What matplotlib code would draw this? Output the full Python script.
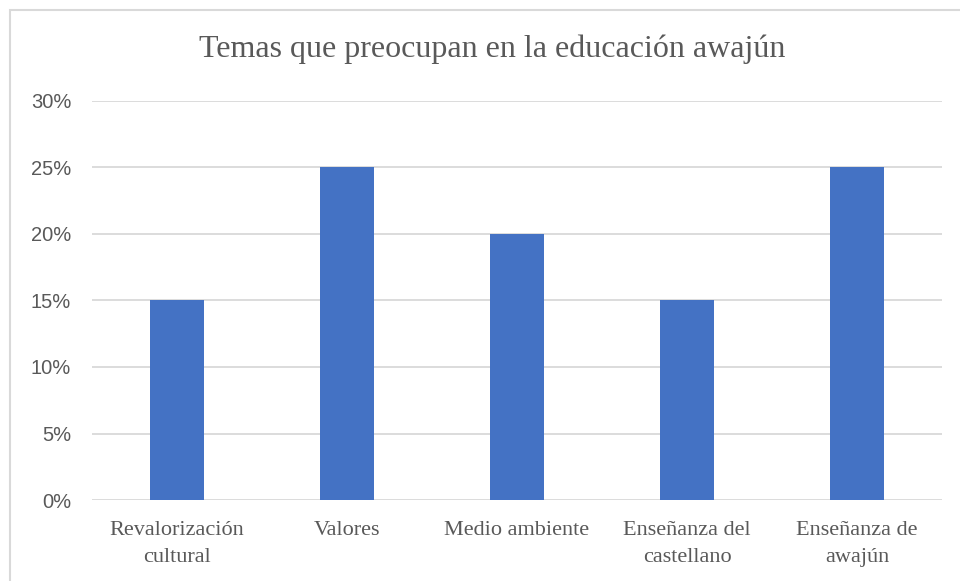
import matplotlib
matplotlib.use("Agg")
import matplotlib.pyplot as plt
from matplotlib.patches import Rectangle
from matplotlib.ticker import PercentFormatter

categories = ["Revalorización\ncultural", "Valores", "Medio ambiente",
              "Enseñanza del\ncastellano", "Enseñanza de\nawajún"]
values = [0.15, 0.25, 0.20, 0.15, 0.25]
yticks = [0, 0.05, 0.10, 0.15, 0.20, 0.25, 0.30]

BLUE = "#4472C4"; GRID = "#D9D9D9"; TXT = "#595959"

fig = plt.figure(figsize=(9.6, 5.81), dpi=100)
ax = fig.add_axes([0.0958, 0.1394, 0.8854, 0.6868])

x = range(len(categories))
ax.bar(x, values, width=0.32, color=BLUE, zorder=3)
ax.set_xlim(-0.5, len(categories) - 0.5)
ax.set_ylim(0, 0.30)
ax.set_yticks(yticks)
ax.yaxis.set_major_formatter(PercentFormatter(1.0, decimals=0))
ax.set_xticks(list(x))
ax.set_xticklabels(categories, family="Liberation Serif", fontsize=16, color=TXT,
                   linespacing=1.55)
for lab in ax.get_yticklabels():
    lab.set_family("Liberation Sans"); lab.set_fontsize(14.5); lab.set_color(TXT)
ax.tick_params(length=0, pad=15)
ax.tick_params(axis="x", pad=15)
ax.grid(axis="y", color=GRID, lw=1.3, zorder=0)
for s in ax.spines.values():
    s.set_visible(False)

fig.text(0.513, 0.915, "Temas que preocupan en la educación awajún", ha="center", va="center",
         family="Liberation Serif", fontsize=23, color=TXT)

fig.patches.append(Rectangle((10 / 960, -0.05), 1.2, 1 - 10 / 581 + 0.05, transform=fig.transFigure,
                             fill=False, edgecolor=GRID, lw=1.5))

fig.savefig("out.png", dpi=100)
